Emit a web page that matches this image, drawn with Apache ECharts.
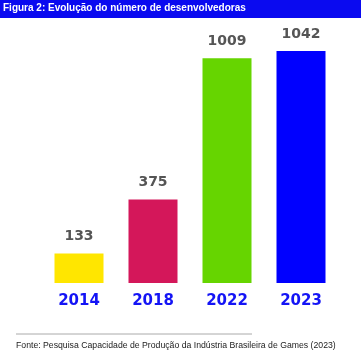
<!DOCTYPE html>
<html lang="pt">
<head>
<meta charset="UTF-8">
<title>Figura 2</title>
<script src="https://cdn.jsdelivr.net/npm/echarts@6/dist/echarts.min.js"></script>
<style>
  html, body { margin: 0; padding: 0; background: #fff; }
  #main { width: 361px; height: 351px; }
</style>
</head>
<body>
<div id="main"></div>
<script>
  // dados
  var anos = ['2014', '2018', '2022', '2023'];
  var desenvolvedoras = [133, 375, 1009, 1042];
  var cores = ['#ffe600', '#d4175a', '#66d500', '#0000ff'];

  var chart = echarts.init(document.getElementById('main'));

  chart.setOption({
    animation: false,
    grid: { left: 42, right: 23, top: 51, bottom: 68 },
    xAxis: {
      type: 'category',
      data: anos,
      axisLine: { show: false },
      axisTick: { show: false },
      axisLabel: {
        color: '#1414f5',
        fontFamily: 'DejaVu Sans',
        fontWeight: 'bold',
        fontSize: 15,
        margin: 11
      }
    },
    yAxis: {
      type: 'value',
      min: 0,
      max: 1042,
      show: false,
      splitLine: { show: false }
    },
    series: [{
      type: 'bar',
      barWidth: 49,
      data: desenvolvedoras.map(function (v, i) {
        return { value: v, itemStyle: { color: cores[i] } };
      }),
      label: {
        show: true,
        position: 'top',
        distance: 10,
        color: '#555',
        fontFamily: 'DejaVu Sans',
        fontWeight: 'bold',
        fontSize: 14
      }
    }],
    graphic: [
      // faixa do título
      { type: 'rect', left: 0, top: 0, shape: { width: 361, height: 18 }, style: { fill: '#0a0af0' } },
      {
        type: 'text', left: 3, top: 3,
        style: { text: 'Figura 2: Evolução do número de desenvolvedoras', fill: '#fff',
                 font: 'bold 10px "Liberation Sans", Arial, sans-serif' }
      },
      // linha e fonte
      { type: 'line', shape: { x1: 16, y1: 334, x2: 252, y2: 334 }, style: { stroke: '#aaa', lineWidth: 1 } },
      {
        type: 'text', left: 16, top: 341,
        style: { text: 'Fonte: Pesquisa Capacidade de Produção da Indústria Brasileira de Games (2023)',
                 fill: '#222', font: '8.7px "Liberation Sans", Arial, sans-serif' }
      }
    ]
  });
</script>
</body>
</html>
